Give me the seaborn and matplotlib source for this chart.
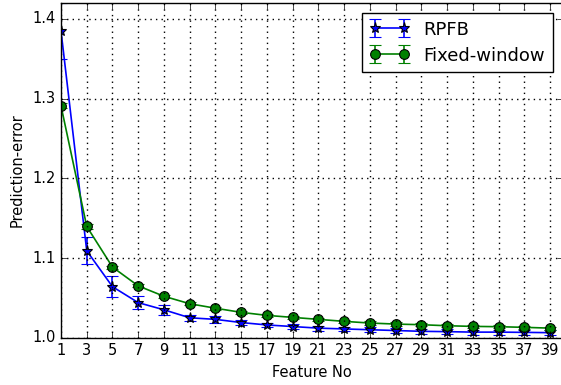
import numpy as np
import pandas as pd
import seaborn as sns
import matplotlib
matplotlib.use("Agg")
import matplotlib.pyplot as plt

features = [1, 3, 5, 7, 9, 11, 13, 15, 17, 19, 21, 23, 25, 27, 29, 31, 33, 35, 37, 39]

rpfb_mean = [1.385, 1.109, 1.064, 1.044, 1.035, 1.025, 1.023, 1.019, 1.016, 1.014,
             1.012, 1.011, 1.010, 1.009, 1.008, 1.0076, 1.007, 1.007, 1.0067, 1.0063]
rpfb_err = [0.035, 0.017, 0.013, 0.008, 0.006, 0.004, 0.004, 0.003, 0.003, 0.003,
            0.003, 0.003, 0.003, 0.003, 0.003, 0.003, 0.003, 0.003, 0.003, 0.003]

fixed_mean = [1.291, 1.1396, 1.0886, 1.065, 1.052, 1.0426, 1.037, 1.0318, 1.028, 1.0255,
              1.023, 1.0205, 1.0184, 1.0171, 1.0163, 1.015, 1.0142, 1.0138, 1.013, 1.012]
fixed_err = [0.003, 0.003, 0.002, 0.002, 0.002, 0.002, 0.002, 0.002, 0.002, 0.002,
             0.002, 0.002, 0.002, 0.002, 0.002, 0.002, 0.002, 0.002, 0.002, 0.002]

df = pd.DataFrame({"feature": features,
                   "RPFB": rpfb_mean, "rpfb_err": rpfb_err,
                   "Fixed-window": fixed_mean, "fixed_err": fixed_err})

sns.set_style("white")
plt.style.use("classic")
plt.rcParams["font.family"] = ["DejaVu Sans"]

fig = plt.figure(figsize=(5.61, 3.85), dpi=100)
ax = fig.add_axes([61 / 561, 1 - 337.7 / 385, 502 / 561, 334.7 / 385])

ax.errorbar(df["feature"], df["RPFB"], yerr=df["rpfb_err"], color="b", marker="*",
            markersize=8, markeredgecolor="k", markeredgewidth=0.8, capsize=4,
            linewidth=1.2, label="RPFB")
ax.errorbar(df["feature"], df["Fixed-window"], yerr=df["fixed_err"], color="g", marker="o",
            markersize=7, markeredgecolor="k", markeredgewidth=0.8, capsize=4,
            linewidth=1.2, label="Fixed-window")

ax.set_xlim(1, 40)
ax.set_ylim(1.0, 1.42)
ax.set_xticks(features)
ax.set_yticks([1.0, 1.1, 1.2, 1.3, 1.4])
ax.tick_params(labelsize=10.5, direction="in", top=True, right=True)
ax.grid(True, color="k", linestyle=":", linewidth=1)
ax.set_xlabel("Feature No", fontsize=10.5)
ax.set_ylabel("Prediction-error", fontsize=10.5)

ax.legend(loc="upper right", fontsize=13, numpoints=2, framealpha=1,
          bbox_to_anchor=(0.99, 0.985), borderaxespad=0.3,
          handlelength=2.2, borderpad=0.4, labelspacing=0.45)

fig.savefig("out.png", dpi=100)
